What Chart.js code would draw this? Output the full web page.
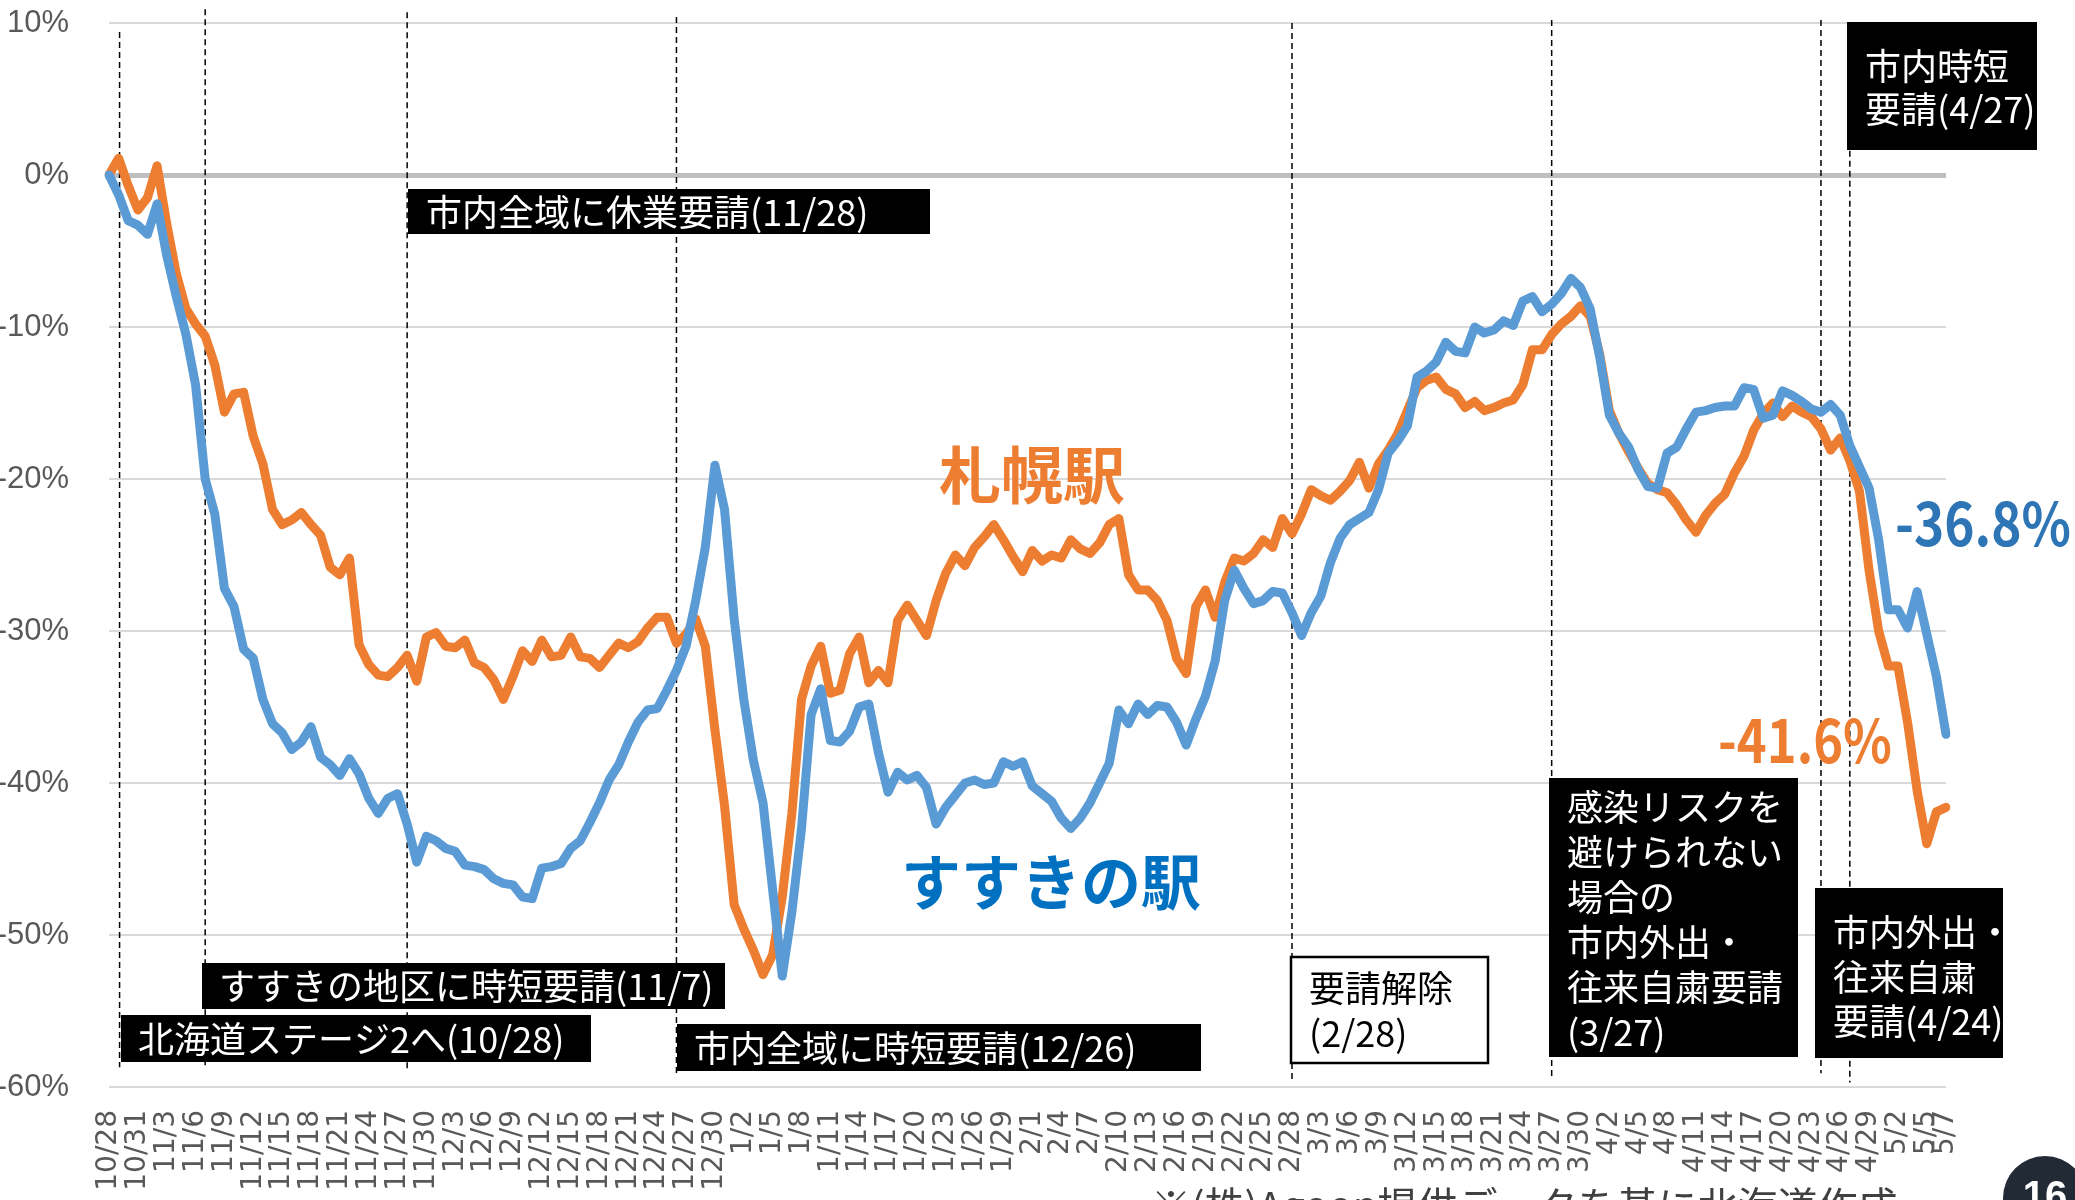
<!DOCTYPE html>
<html lang="ja">
<head>
<meta charset="utf-8">
<title>札幌駅・すすきの駅 人出の推移</title>
<script src="https://cdn.jsdelivr.net/npm/chart.js@4.4.1/dist/chart.umd.min.js"></script>
<style>
  html, body { margin: 0; padding: 0; background: #fff; }
  #wrap { width: 2075px; height: 1200px; overflow: hidden; }
</style>
</head>
<body>
<div id="wrap"><canvas id="chart" width="2075" height="1200"></canvas></div>
<script>
// month, first day, last day of the period shown
const monthSpans = [[10, 28, 31], [11, 1, 30], [12, 1, 31], [1, 1, 31], [2, 1, 28], [3, 1, 31], [4, 1, 30], [5, 1, 7]];
const dates = [];
monthSpans.forEach(([m, d0, d1]) => {
    for (let d = d0; d <= d1; d++) dates.push(m + '/' + d);
});

// 札幌駅 (%), daily
const sapporo = [
    0.0, 1.1, -0.7, -2.3, -1.5, 0.6, -3.2, -6.5, -8.8, -9.8,
    -10.6, -12.5, -15.6, -14.4, -14.3, -17.2, -19.0, -22.0, -23.0, -22.7,
    -22.2, -23.0, -23.7, -25.8, -26.3, -25.2, -30.9, -32.2, -32.9, -33.0,
    -32.4, -31.6, -33.3, -30.4, -30.1, -31.0, -31.1, -30.6, -32.1, -32.4,
    -33.2, -34.5, -33.0, -31.3, -32.0, -30.6, -31.7, -31.6, -30.4, -31.7,
    -31.8, -32.4, -31.6, -30.8, -31.1, -30.7, -29.8, -29.1, -29.1, -30.8,
    -30.2, -29.2, -31.0, -36.5, -41.5, -48.0, -49.6, -51.0, -52.6, -51.3,
    -47.5, -42.0, -34.5, -32.3, -31.0, -34.1, -33.9, -31.5, -30.4, -33.4,
    -32.6, -33.4, -29.3, -28.3, -29.3, -30.3, -28.0, -26.2, -25.0, -25.7,
    -24.5, -23.8, -23.0, -24.0, -25.1, -26.1, -24.7, -25.4, -25.0, -25.2,
    -24.0, -24.6, -24.9, -24.2, -23.0, -22.6, -26.3, -27.3, -27.3, -28.0,
    -29.3, -31.8, -32.8, -28.4, -27.3, -29.1, -26.8, -25.2, -25.4, -24.9,
    -24.0, -24.5, -22.6, -23.6, -22.3, -20.7, -21.1, -21.4, -20.8, -20.1,
    -18.9, -20.6, -19.0, -18.1, -17.0, -15.5, -14.0, -13.5, -13.3, -14.1,
    -14.4, -15.3, -14.9, -15.5, -15.3, -15.0, -14.8, -13.8, -11.5, -11.5,
    -10.5, -9.8, -9.3, -8.6, -9.3, -11.8, -15.5, -17.0, -18.2, -19.3,
    -20.3, -20.7, -20.9, -21.7, -22.7, -23.5, -22.4, -21.6, -21.0, -19.6,
    -18.5, -16.8, -15.7, -15.0, -15.9, -15.2, -15.6, -15.9, -16.7, -18.1,
    -17.3, -18.8, -20.8, -26.0, -30.0, -32.3, -32.3, -36.0, -40.5, -44.0,
    -41.9, -41.6
];

// すすきの駅 (%), daily
const susukino = [
    0.0, -1.3, -3.0, -3.3, -3.9, -1.9, -5.3, -8.0, -10.5, -13.8,
    -20.0, -22.3, -27.2, -28.4, -31.2, -31.8, -34.5, -36.1, -36.7, -37.8,
    -37.3, -36.3, -38.3, -38.8, -39.5, -38.4, -39.4, -41.0, -42.0, -41.0,
    -40.7, -42.7, -45.2, -43.5, -43.8, -44.3, -44.5, -45.4, -45.5, -45.7,
    -46.3, -46.6, -46.7, -47.5, -47.6, -45.6, -45.5, -45.3, -44.3, -43.8,
    -42.6, -41.3, -39.8, -38.8, -37.3, -36.0, -35.2, -35.1, -33.9, -32.6,
    -31.0, -28.0, -24.5, -19.1, -22.0, -29.2, -34.5, -38.5, -41.3, -47.0,
    -52.7, -48.5, -43.0, -35.5, -33.8, -37.2, -37.3, -36.6, -35.0, -34.8,
    -38.0, -40.6, -39.3, -39.8, -39.5, -40.3, -42.7, -41.6, -40.8, -40.0,
    -39.8, -40.1, -40.0, -38.6, -38.9, -38.6, -40.2, -40.7, -41.2, -42.3,
    -43.0, -42.3, -41.3, -40.0, -38.7, -35.2, -36.1, -34.8, -35.5, -34.9,
    -35.0, -36.0, -37.5, -35.8, -34.3, -32.0, -28.0, -26.0, -27.2, -28.2,
    -28.0, -27.4, -27.5, -28.8, -30.3, -28.8, -27.7, -25.5, -23.9, -23.0,
    -22.6, -22.2, -20.7, -18.3, -17.5, -16.5, -13.3, -12.9, -12.3, -11.0,
    -11.6, -11.7, -10.0, -10.4, -10.2, -9.6, -9.9, -8.3, -8.0, -9.0,
    -8.5, -7.8, -6.8, -7.4, -8.8, -12.0, -15.8, -17.0, -17.9, -19.4,
    -20.5, -20.6, -18.3, -17.9, -16.7, -15.6, -15.5, -15.3, -15.2, -15.2,
    -14.0, -14.1, -16.0, -15.8, -14.2, -14.5, -14.9, -15.4, -15.6, -15.1,
    -15.8, -17.8, -19.2, -20.6, -24.0, -28.6, -28.6, -29.8, -27.4, -30.2,
    -33.0, -36.8
];

const yTicks = [-60, -50, -40, -30, -20, -10, 0, 10];
const tickEvery = 3;   // date label every 3 days, plus the last day

// dashed event lines: date, small nudge in days, top / bottom in %
const eventLines = [
    { date: '10/28', nudge: 1.1, top: 9.4, bottom: -58.7 },
    { date: '11/7', nudge: 0, top: 10.9, bottom: -58.7 },
    { date: '11/28', nudge: 0, top: 10.7, bottom: -58.9 },
    { date: '12/26', nudge: 0, top: 10.4, bottom: -59.2 },
    { date: '2/28', nudge: 0, top: 10.0, bottom: -59.7 },
    { date: '3/27', nudge: 0, top: 10.2, bottom: -59.4 },
    { date: '4/24', nudge: 0, top: 10.2, bottom: -59.1 },
    { date: '4/27', nudge: 0, top: 1.6, bottom: -59.7 }
];

// annotation boxes (page pixels)
const boxes = [
    { x: 408, y: 189, w: 522, h: 45, tx: 426, lines: ['市内全域に休業要請(11/28)'], ly: [212] },
    { x: 202, y: 963, w: 523, h: 46, tx: 219, lines: ['すすきの地区に時短要請(11/7)'], ly: [986] },
    { x: 121, y: 1015, w: 470, h: 47, tx: 138, lines: ['北海道ステージ2へ(10/28)'], ly: [1039] },
    { x: 677, y: 1024, w: 524, h: 47, tx: 694, lines: ['市内全域に時短要請(12/26)'], ly: [1048] },
    { x: 1291, y: 957, w: 197, h: 106, tx: 1309, lines: ['要請解除', '(2/28)'], ly: [988, 1033], white: true },
    { x: 1549, y: 778, w: 249, h: 279, tx: 1567,
      lines: ['感染リスクを', '避けられない', '場合の', '市内外出・', '往来自粛要請', '(3/27)'],
      ly: [807, 852, 897, 942, 987, 1032] },
    { x: 1815, y: 888, w: 188, h: 170, tx: 1833, lines: ['市内外出・', '往来自粛', '要請(4/24)'], ly: [932, 977, 1021] },
    { x: 1847, y: 22, w: 190, h: 128, tx: 1865, lines: ['市内時短', '要請(4/27)'], ly: [66, 109] }
];

const JP = '"Noto Sans CJK JP", "Noto Sans", sans-serif';

// draws text squeezed to a given width (the source uses a narrow bold face)
function fitText(ctx, text, x, y, width) {
    const w = ctx.measureText(text).width;
    ctx.save();
    ctx.translate(x, y);
    ctx.scale(Math.min(1, width / w), 1);
    ctx.fillText(text, 0, 0);
    ctx.restore();
}

const overlay = {
    id: 'overlay',
    beforeDatasetsDraw(chart) {
        const ctx = chart.ctx;
        const xs = chart.scales.x, ys = chart.scales.y;
        ctx.save();
        ctx.strokeStyle = '#000';
        ctx.lineWidth = 1.5;
        ctx.setLineDash([6, 4]);
        eventLines.forEach(ev => {
            const px = xs.getPixelForValue(dates.indexOf(ev.date) + ev.nudge);
            ctx.beginPath();
            ctx.moveTo(px, ys.getPixelForValue(ev.top));
            ctx.lineTo(px, ys.getPixelForValue(ev.bottom));
            ctx.stroke();
        });
        ctx.restore();
    },
    afterDraw(chart) {
        const ctx = chart.ctx;
        ctx.save();
        // event boxes
        boxes.forEach(b => {
            if (b.white) {
                ctx.fillStyle = '#fff';
                ctx.fillRect(b.x, b.y, b.w, b.h);
                ctx.strokeStyle = '#000';
                ctx.lineWidth = 2.5;
                ctx.strokeRect(b.x, b.y, b.w, b.h);
            } else {
                ctx.fillStyle = '#000';
                ctx.fillRect(b.x, b.y, b.w, b.h);
            }
            ctx.fillStyle = b.white ? '#000' : '#fff';
            ctx.font = '36px ' + JP;
            ctx.textAlign = 'left';
            ctx.textBaseline = 'middle';
            b.lines.forEach((t, i) => ctx.fillText(t, b.tx, b.ly[i]));
        });

        // series names
        ctx.textAlign = 'left';
        ctx.textBaseline = 'middle';
        ctx.font = 'bold 62px ' + JP;
        ctx.fillStyle = '#ED7D31';
        ctx.fillText('札幌駅', 939, 475);
        ctx.font = 'bold 60px ' + JP;
        ctx.fillStyle = '#0070C0';
        ctx.fillText('すすきの駅', 901, 882);

        // last values
        ctx.textBaseline = 'alphabetic';
        ctx.font = 'bold 60px ' + JP;
        ctx.fillStyle = '#2E75B6';
        fitText(ctx, susukino[susukino.length - 1].toFixed(1) + '%', 1895, 546, 176);
        ctx.fillStyle = '#ED7D31';
        fitText(ctx, sapporo[sapporo.length - 1].toFixed(1) + '%', 1718, 763, 174);

        // source note, cut by the page edge
        ctx.font = '40px ' + JP;
        ctx.fillStyle = '#404040';
        ctx.textBaseline = 'top';
        ctx.fillText('※(株)Agoop提供データを基に北海道作成', 1151, 1186);

        // page number
        ctx.fillStyle = '#222B35';
        ctx.beginPath();
        ctx.arc(2045, 1198, 42, 0, Math.PI * 2);
        ctx.fill();
        ctx.fillStyle = '#fff';
        ctx.font = 'bold 40px "Liberation Sans", sans-serif';
        ctx.textAlign = 'center';
        ctx.textBaseline = 'alphabetic';
        ctx.fillText('16', 2045, 1209);
        ctx.restore();
    }
};

new Chart(document.getElementById('chart'), {
    type: 'line',
    data: {
        labels: dates,
        datasets: [
            {
                label: 'すすきの駅',
                data: susukino,
                borderColor: '#5B9BD5',
                borderWidth: 9,
                borderJoinStyle: 'round',
                borderCapStyle: 'round',
                order: 0
            },
            {
                label: '札幌駅',
                data: sapporo,
                borderColor: '#ED7D31',
                borderWidth: 9,
                borderJoinStyle: 'round',
                borderCapStyle: 'round',
                order: 1
            }
        ]
    },
    options: {
        responsive: false,
        devicePixelRatio: 1,
        animation: false,
        layout: { padding: { top: 23, right: 129, bottom: 0, left: 0 } },
        elements: {
            line: { tension: 0 },
            point: { radius: 0, hoverRadius: 0 }
        },
        plugins: {
            legend: { display: false },
            tooltip: { enabled: false }
        },
        scales: {
            x: {
                type: 'category',
                offset: false,
                grid: { display: false },
                border: { display: false },
                ticks: {
                    autoSkip: false,
                    minRotation: 90,
                    maxRotation: 90,
                    padding: 15,
                    color: '#595959',
                    font: { family: '"DejaVu Sans", sans-serif', size: 28 },
                    callback: (v, i) => (i % tickEvery === 0 || i === dates.length - 1) ? dates[i] : ''
                },
                afterFit: s => { s.height = 113; }
            },
            y: {
                min: yTicks[0],
                max: yTicks[yTicks.length - 1],
                afterBuildTicks: s => { s.ticks = yTicks.map(v => ({ value: v })); },
                ticks: {
                    padding: 3,
                    color: '#595959',
                    font: { family: '"Liberation Sans", sans-serif', size: 31 },
                    callback: v => v + '%'
                },
                grid: {
                    drawTicks: true,
                    tickLength: 37,
                    tickColor: 'rgba(0,0,0,0)',
                    color: c => c.tick && c.tick.value === 0 ? '#BFBFBF' : '#D9D9D9',
                    lineWidth: c => c.tick && c.tick.value === 0 ? 5 : 2
                },
                border: { display: false },
                afterFit: s => { s.width = 109; }
            }
        }
    },
    plugins: [overlay]
});
</script>
</body>
</html>
